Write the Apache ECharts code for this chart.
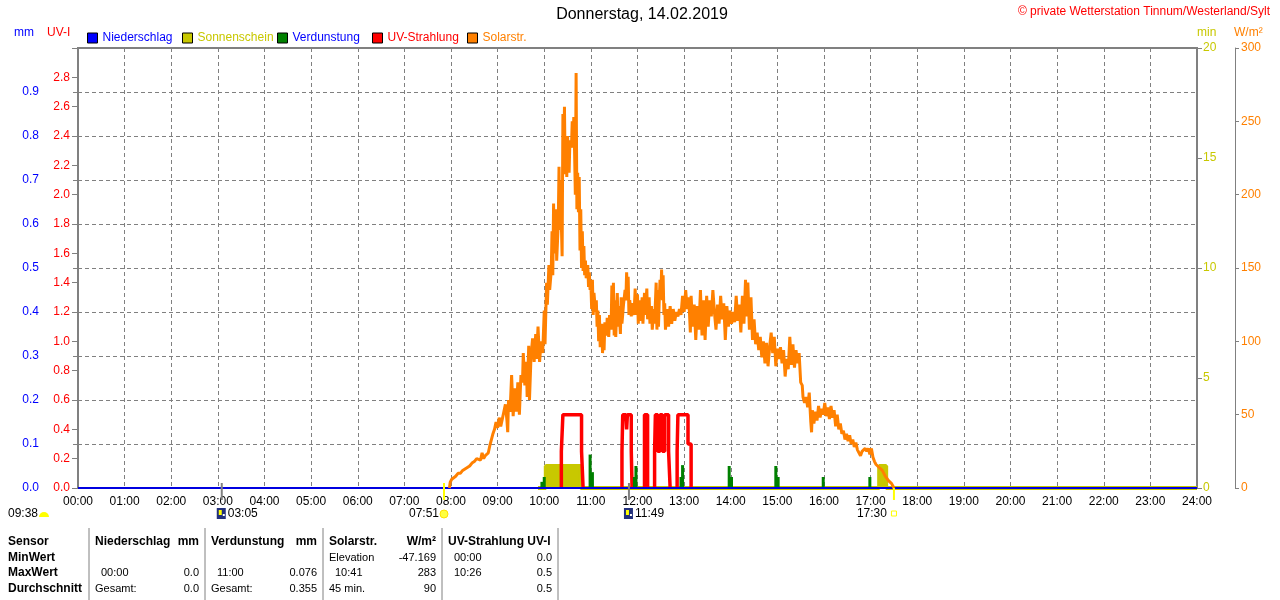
<!DOCTYPE html>
<html>
<head>
<meta charset="utf-8">
<script src="https://cdn.jsdelivr.net/npm/echarts/dist/echarts.min.js"></script>
<style>
html,body{margin:0;padding:0;background:#fff;}
#chart{width:1280px;height:600px;}
</style>
</head>
<body>
<div id="chart"></div>
<script>
// ---------- DATA (minutes since midnight, value) ----------
const hourTicks = ['00:00','01:00','02:00','03:00','04:00','05:00','06:00','07:00','08:00','09:00','10:00','11:00','12:00','13:00','14:00','15:00','16:00','17:00','18:00','19:00','20:00','21:00','22:00','23:00','24:00'];

const seriesNames = ['Niederschlag','Sonnenschein','Verdunstung','UV-Strahlung','Solarstr.'];

// Niederschlag (mm)
const precipitation = [[0,0],[1440,0]];

// Sonnenschein (min)
const sunshine = [[592,0],[602,0],[602,1.0],[647,1.0],[647,0],[1031,0],[1031,1.0],[1040,1.0],[1040,0],[1440,0]];

// Verdunstung (mm)
const evaporation = [[597,0.014],[600,0.025],[659,0.076],[662,0.036],[716,0.025],[718,0.05],[776,0.025],[778,0.052],[838,0.05],[841,0.025],[898,0.05],[901,0.025],[959,0.025],[1019,0.025]];

// UV-Strahlung (UV-I)
const uvIndex = [
 [622,0],[622,0.25],[624,0.25],[624,0.5],[648,0.5],[648,0.25],[650,0.25],[650,0],[651,null],
 [700,0],[700,0.25],[701,0.25],[701,0.5],[705,0.5],[706,0.4],[707,0.5],[712,0.5],[712,0.25],[713,0.25],[713,0],[714,null],
 [729,0],[729,0.5],[733,0.5],[733,0],[734,null],
 [742,0],[742,0.25],[743,0.25],[743,0.5],[746,0.5],[746,0.25],[749,0.25],[749,0.5],[752,0.5],[752,0.25],[755,0.25],[755,0.5],[760,0.5],[760,0.25],[762,0.25],[762,0],[763,null],
 [771,0],[771,0.25],[772,0.25],[772,0.5],[785,0.5],[785,0.3],[789,0.3],[789,0]
];

// Solarstrahlung (W/m²)
const solar = [
 [478,0],[479,4],[481,6],[483,7],[486,8],[489,10],[492,10],[495,12],[498,13],[501,14],[504,15],[507,17],[510,18],[513,20],[515,21],[518,19],[520,24],[522,20],[524,22],[526,21],[528,24],[530,29],[532,33],[534,37],[536,40],[538,45],[540,41],[542,48],[544,42],[546,47],[548,52],[550,57],[552,46],[553,38],[554,60],[556,52],[558,77],[560,49],[562,68],[564,52],[566,72],[568,50],[570,77],[572,72],[573,92],[575,70],[577,86],[578,62],[580,97],[581,60],[583,90],[585,102],[587,86],[589,105],[590,88],[592,110],[594,86],[596,100],[598,92],[600,121],[601,98],[603,140],[604,125],[606,152],[607,135],[609,148],[610,175],[611,145],[612,194],[613,160],[615,190],[616,155],[618,180],[619,219],[620,176],[621,210],[622,180],[623,158],[624,255],[625,218],[626,260],[627,214],[628,240],[629,212],[630,240],[632,215],[633,237],[635,232],[636,250],[637,232],[638,253],[639,230],[640,200],[641,283],[642,190],[643,215],[644,188],[645,212],[646,162],[647,190],[648,150],[649,175],[650,148],[651,165],[652,145],[653,155],[654,143],[656,152],[657,137],[658,147],[659,135],[660,140],[661,122],[662,142],[663,118],[664,133],[666,120],[667,128],[668,110],[669,121],[670,100],[671,118],[672,96],[674,112],[675,92],[676,105],[677,94],[678,113],[680,104],[681,116],[683,103],[684,118],[686,108],[687,138],[688,110],[689,140],[690,104],[691,128],[692,103],[694,133],[695,110],[696,124],[698,105],[699,130],[700,112],[702,125],[704,135],[705,128],[706,147],[707,132],[708,144],[709,118],[710,128],[712,117],[713,126],[714,118],[716,124],[717,136],[718,118],[720,132],[721,112],[722,128],[724,114],[726,130],[727,112],[729,133],[730,118],[732,136],[733,115],[735,130],[736,112],[738,124],[739,108],[741,122],[742,112],[744,140],[745,108],[746,135],[747,110],[748,128],[749,142],[750,130],[751,149],[752,128],[753,145],[754,118],[755,126],[756,108],[758,122],[760,110],[762,124],[764,112],[766,122],[768,114],[770,120],[772,117],[774,122],[776,118],[778,131],[780,120],[782,135],[784,122],[786,130],[788,106],[789,131],[791,110],[793,125],[795,101],[797,124],[799,108],[801,135],[803,104],[805,128],[807,101],[809,131],[811,110],[813,128],[815,117],[817,135],[819,120],[821,108],[823,125],[825,112],[827,131],[829,115],[831,126],[833,101],[835,124],[837,110],[839,121],[841,112],[843,120],[845,113],[847,131],[849,114],[851,125],[853,106],[855,131],[857,112],[859,142],[860,117],[862,140],[864,108],[866,130],[868,101],[870,115],[872,98],[874,106],[876,94],[878,103],[880,89],[882,100],[884,85],[886,99],[888,83],[890,96],[892,106],[894,92],[896,103],[898,83],[900,95],[902,88],[904,96],[906,85],[908,94],[910,76],[912,88],[914,81],[916,103],[918,84],[920,98],[922,82],[924,94],[926,85],[928,92],[930,72],[932,70],[933,62],[935,58],[937,62],[939,55],[941,65],[943,45],[944,38],[945,53],[947,44],[949,52],[951,46],[953,56],[955,48],[957,54],[959,50],[961,58],[963,49],[965,55],[967,47],[969,56],[971,48],[973,53],[975,42],[977,50],[979,40],[981,44],[983,37],[985,39],[987,33],[989,37],[991,32],[993,36],[995,30],[997,33],[999,28],[1001,31],[1003,26],[1005,27],[1007,22],[1009,25],[1011,24],[1013,27],[1015,25],[1017,27],[1019,23],[1021,27],[1023,21],[1025,18],[1027,16],[1029,17],[1031,14],[1033,15],[1035,12],[1037,10],[1039,8],[1041,7],[1043,5],[1045,4],[1047,3],[1049,1],[1050,0]
];

// Sonne / Mond (Minuten)
const astroEvents = [
 {t:185, label:'03:05', kind:'moonrise'},
 {t:471, label:'07:51', kind:'sunrise'},
 {t:709, label:'11:49', kind:'moonset'},
 {t:1050, label:'17:30', kind:'sunset'}
];
const dayLength = '09:38';

// Tabelle
const tableRowLabels = ['Sensor','MinWert','MaxWert','Durchschnitt'];
const tableCols = [
 {head:'Niederschlag', unit:'mm', min:['',''], max:['00:00','0.0'], avg:['Gesamt:','0.0']},
 {head:'Verdunstung', unit:'mm', min:['',''], max:['11:00','0.076'], avg:['Gesamt:','0.355']},
 {head:'Solarstr.', unit:'W/m²', min:['Elevation','-47.169'], max:['10:41','283'], avg:['45 min.','90']},
 {head:'UV-Strahlung UV-I', unit:'', min:['00:00','0.0'], max:['10:26','0.5'], avg:['','0.5']}
];

// ---------- CHART ----------
const FONT = '"Liberation Sans", Arial, sans-serif';
const GRAY = '#808080';
const legendTextColors = ['#0000ff','#c8c800','#0000ff','#ff0000','#ff8000'];
const chart = echarts.init(document.getElementById('chart'), null, {renderer:'canvas'});

function hideTop(max){ return function(v){ return Math.abs(v-max) < 1e-6 ? '' : (max >= 5 ? String(Math.round(v)) : v.toFixed(1)); }; }

const option = {
  animation:false,
  textStyle:{fontFamily:FONT},
  grid:{left:78,right:83,top:48,bottom:112,show:true,borderColor:GRAY,borderWidth:2,containLabel:false,outerBoundsMode:'none'},
  legend: seriesNames.map(function(n,i){
    return {
      left:87+95*i, top:32, itemWidth:10, itemHeight:10, itemGap:0, icon:'rect', padding:0,
      itemStyle:{borderColor:'#000',borderWidth:1},
      textStyle:{fontSize:12,fontFamily:FONT,color:legendTextColors[i]},
      selectedMode:false,
      data:[n]
    };
  }),
  xAxis:{
    type:'value', min:0, max:1440, interval:60,
    axisLine:{show:false}, axisTick:{show:false},
    axisLabel:{color:'#000',fontSize:12,margin:8,fontFamily:FONT,
      formatter:function(v){ return hourTicks[Math.round(v/60)]; }},
    splitLine:{show:true,lineStyle:{color:GRAY,width:1,type:[4,3]}}
  },
  yAxis:[
    {type:'value',position:'left',offset:37,min:0,max:1.0,interval:0.1,
     axisLine:{show:true,lineStyle:{color:GRAY,width:1}},
     axisTick:{show:true,length:5,lineStyle:{color:GRAY}},
     axisLabel:{color:'#0000ff',fontSize:12,margin:2,formatter:hideTop(1.0)},
     splitLine:{show:true,lineStyle:{color:GRAY,width:1,type:[4,3]}}},
    {type:'value',position:'left',offset:0,min:0,max:3.0,interval:0.2,
     axisLine:{show:false},
     axisTick:{show:true,length:6,lineStyle:{color:GRAY}},
     axisLabel:{color:'#ff0000',fontSize:12,margin:8,formatter:hideTop(3.0)},
     splitLine:{show:false}},
    {type:'value',position:'right',offset:0,min:0,max:20,interval:5,
     axisLine:{show:false},
     axisTick:{show:true,length:5,lineStyle:{color:GRAY}},
     axisLabel:{color:'#c8c800',fontSize:12,margin:6,formatter:function(v){return String(v);}},
     splitLine:{show:false}},
    {type:'value',position:'right',offset:38,min:0,max:300,interval:50,
     axisLine:{show:true,lineStyle:{color:GRAY,width:1}},
     axisTick:{show:true,length:4,lineStyle:{color:GRAY}},
     axisLabel:{color:'#ff8000',fontSize:12,margin:6,formatter:function(v){return String(v);}},
     splitLine:{show:false}}
  ],
  series:[
    {name:'Sonnenschein',type:'line',yAxisIndex:2,data:sunshine,showSymbol:false,z:1,
     itemStyle:{color:'#c8c800'},lineStyle:{color:'#c8c800',width:4},areaStyle:{color:'#c8c800',opacity:1}},
    {name:'UV-Strahlung',type:'line',yAxisIndex:1,data:uvIndex,showSymbol:false,z:2,connectNulls:false,
     itemStyle:{color:'#ff0000'},lineStyle:{color:'#ff0000',width:3.5}},
    {name:'Verdunstung',type:'bar',yAxisIndex:0,data:evaporation,barWidth:3,z:3,
     itemStyle:{color:'#008000'}},
    {name:'Niederschlag',type:'line',yAxisIndex:0,data:precipitation,showSymbol:false,z:4,
     itemStyle:{color:'#0000ff'},lineStyle:{color:'#0000e0',width:2}},
    {name:'Solarstr.',type:'line',yAxisIndex:3,data:solar,showSymbol:false,z:5,sampling:null,
     itemStyle:{color:'#ff8000'},lineStyle:{color:'#ff8000',width:3}}
  ]
};
chart.setOption(option);

// ---------- GRAPHIC (texts, table, markers) ----------
const g = [];
function txt(text,x,y,color,size,opts){
  opts = opts||{};
  g.push({type:'text',silent:true,z:100,style:{text:text,x:x,y:y,fill:color,
    font:(opts.bold?'bold ':'')+size+'px '+FONT,align:opts.align||'left',verticalAlign:'middle'}});
}
function ln(x1,y1,x2,y2,color,w){
  g.push({type:'line',silent:true,z:90,shape:{x1:x1,y1:y1,x2:x2,y2:y2},style:{stroke:color,lineWidth:w}});
}
// titles
txt('Donnerstag, 14.02.2019',642,15,'#000',16,{align:'center'});
txt('© private Wetterstation Tinnum/Westerland/Sylt',1270,12,'#ff0000',12,{align:'right'});
txt('mm',14,33,'#0000ff',12);
txt('UV-I',47,33,'#ff0000',12);
txt('min',1197,33,'#c8c800',12);
txt('W/m²',1234,33,'#ff8000',12);

// astro markers
const yBase = chart.convertToPixel({yAxisIndex:0},0);
txt(dayLength,8,514,'#000',12);
g.push({type:'sector',silent:true,z:100,shape:{cx:44,cy:517,r:5,r0:0,startAngle:Math.PI,endAngle:2*Math.PI},style:{fill:'#ffff00'}});
astroEvents.forEach(function(e){
  const x = chart.convertToPixel({xAxisIndex:0}, e.t);
  if (e.kind==='sunrise'){
    ln(x,483,x,500,'#ffff00',2);
    g.push({type:'circle',silent:true,z:100,shape:{cx:x,cy:514,r:4},style:{fill:'#ffff40',stroke:'#ffe000',lineWidth:1}});
    txt(e.label,x-5,514,'#000',12,{align:'right'});
  } else if (e.kind==='sunset'){
    ln(x,yBase,x,500,'#ffff00',2);
    g.push({type:'rect',silent:true,z:100,shape:{x:x-2.5,y:511,width:5,height:5},style:{fill:'#fff',stroke:'#ffff00',lineWidth:1}});
    txt(e.label,x-7,514,'#000',12,{align:'right'});
  } else {
    ln(x,483,x,500,GRAY,2);
    g.push({type:'rect',silent:true,z:100,shape:{x:x-5,y:508,width:9,height:11},style:{fill:'#22307c'}});
    g.push({type:'rect',silent:true,z:101,shape:{x:x-3,y:510,width:3,height:5},style:{fill:'#ffff00'}});
    g.push({type:'rect',silent:true,z:101,shape:{x:x+1,y:514,width:2,height:2},style:{fill:'#ffffff'}});
    txt(e.label,x+6,514,'#000',12);
  }
});

// table
const rowY = [542,558,573,589];
const sepX = [89,205,323,442,558];
sepX.forEach(function(x){ ln(x,528,x,600,GRAY,1); });
tableRowLabels.forEach(function(l,i){ txt(l,8,rowY[i],'#000',12,{bold:true}); });
tableCols.forEach(function(c,i){
  const left = sepX[i]+6, right = sepX[i+1]-6;
  txt(c.head,left,rowY[0],'#000',12,{bold:true});
  if (c.unit) txt(c.unit,right,rowY[0],'#000',12,{bold:true,align:'right'});
  [c.min,c.max,c.avg].forEach(function(r,j){
    const indent = (r[0]==='Gesamt:'||r[0]==='Elevation'||r[0]==='45 min.') ? 0 : 6;
    if (r[0]) txt(r[0],left+indent,rowY[j+1],'#000',11);
    if (r[1]) txt(r[1],right,rowY[j+1],'#000',11,{align:'right'});
  });
});

chart.setOption({graphic:g});
</script>
</body>
</html>
